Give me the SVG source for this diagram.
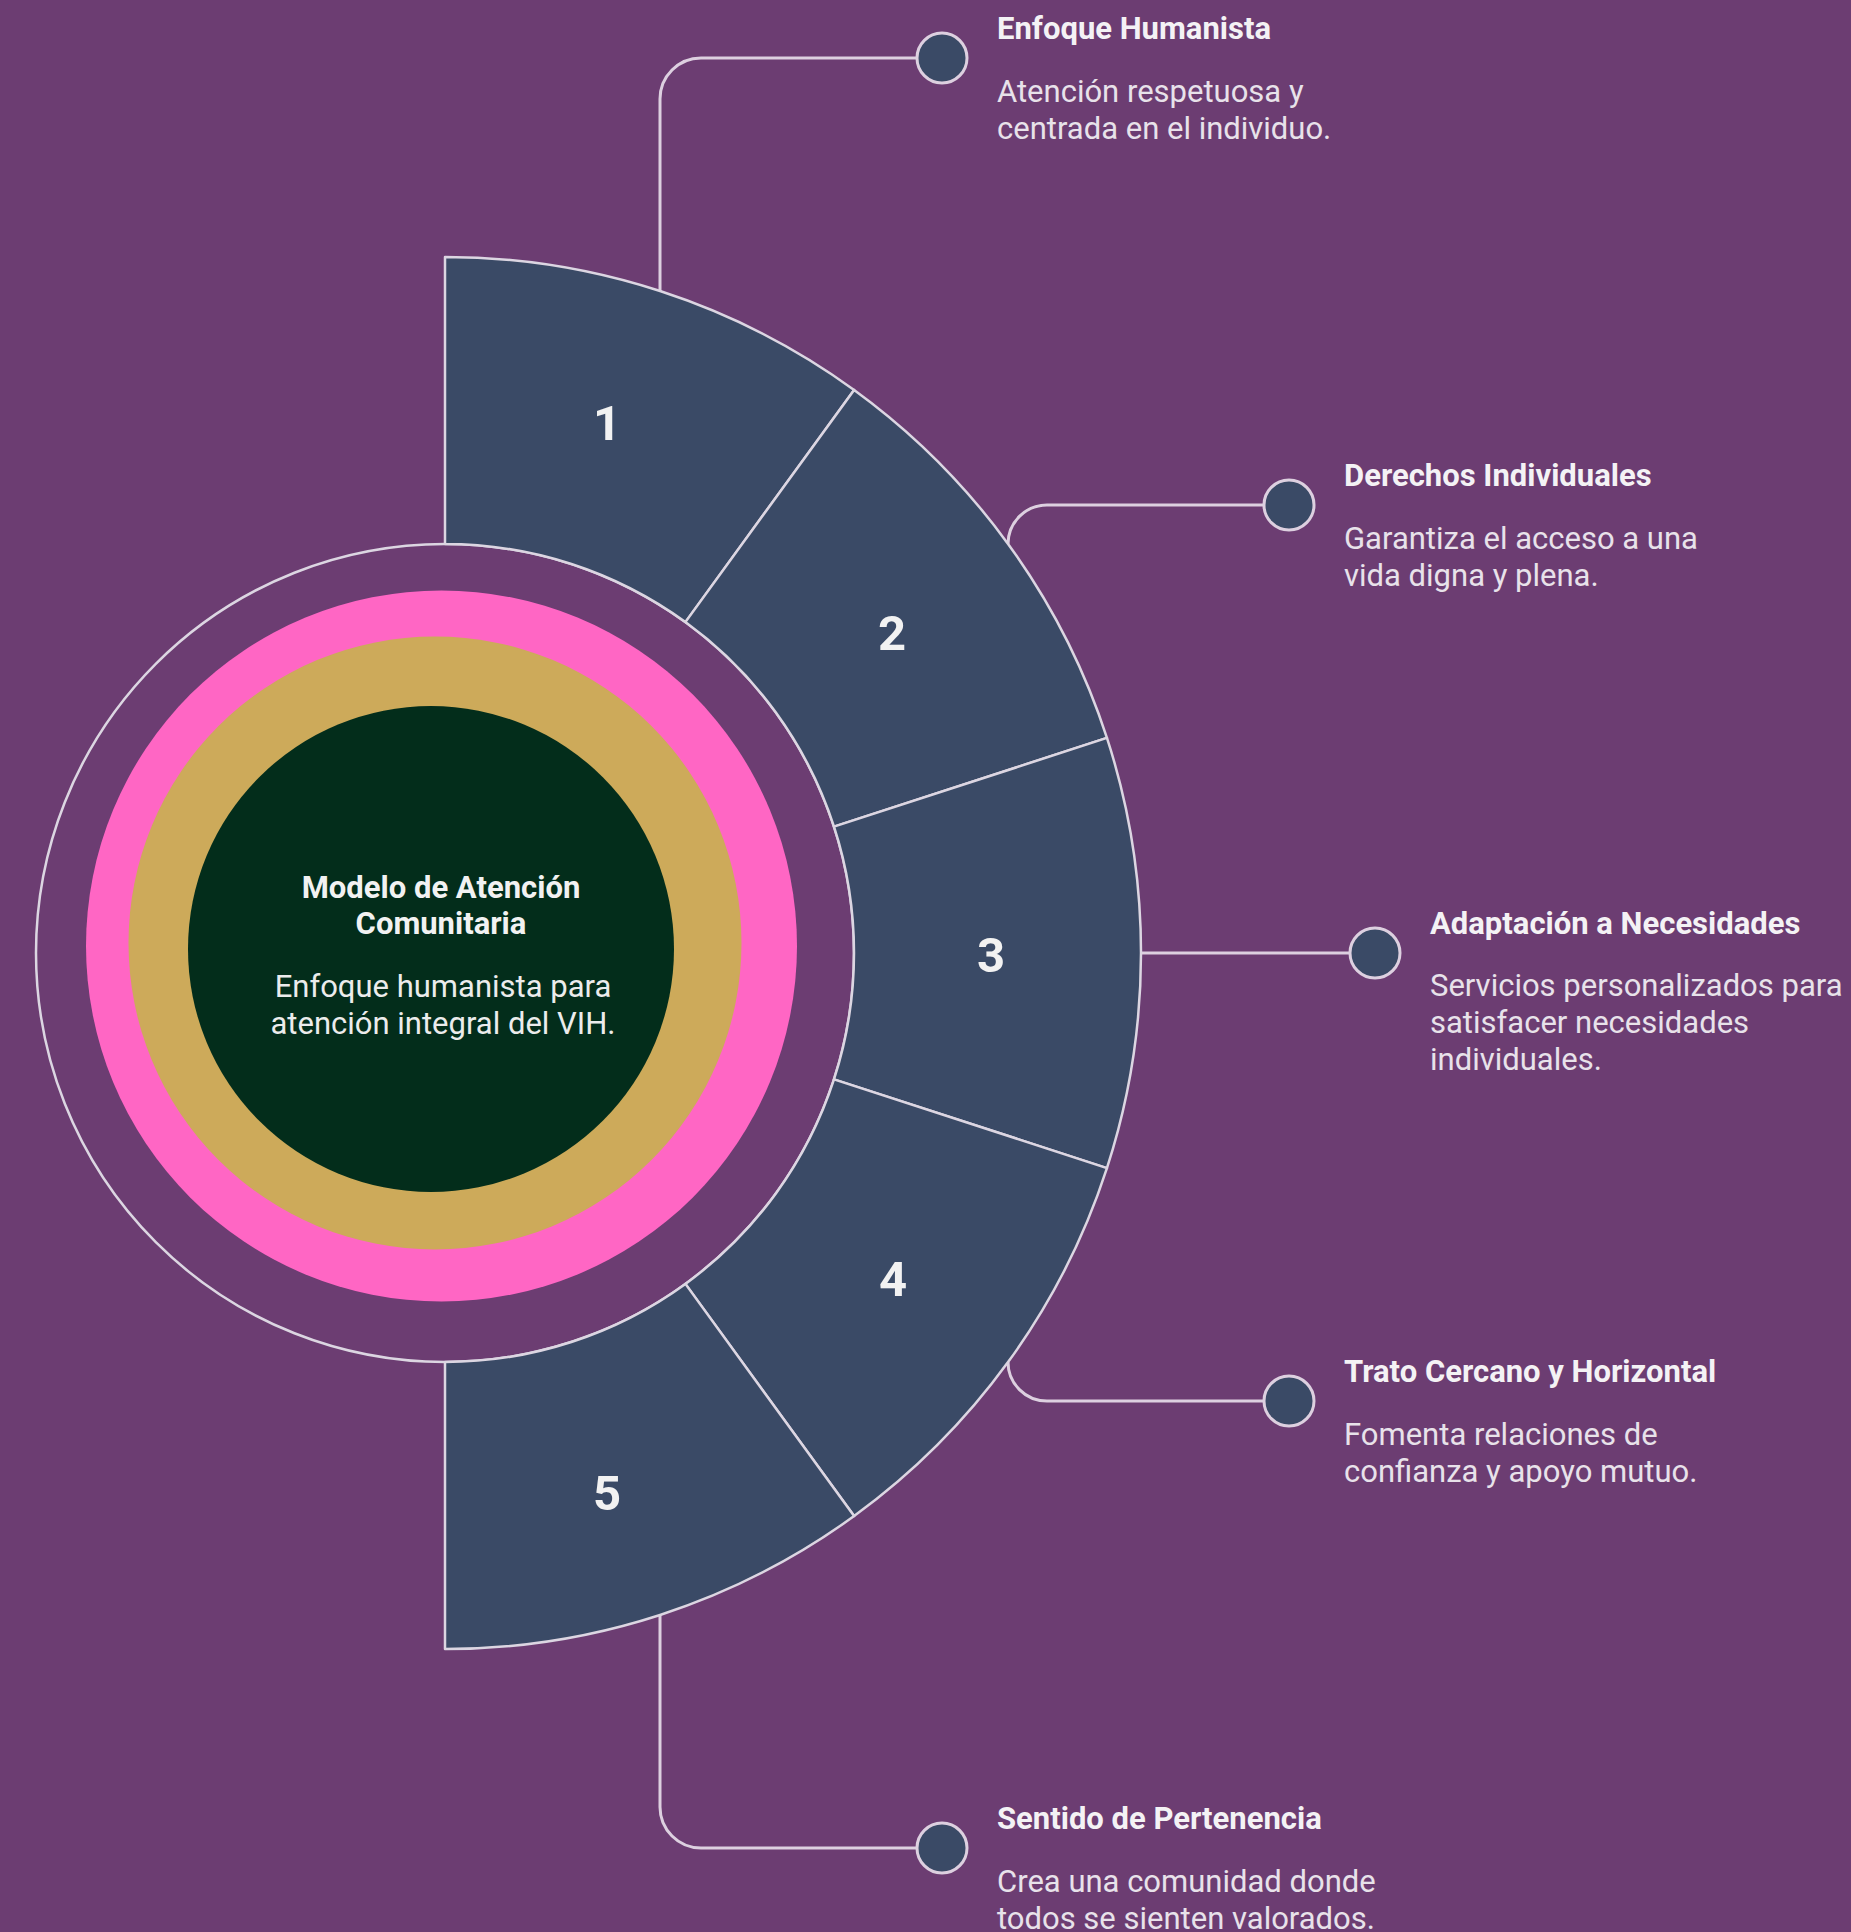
<svg xmlns="http://www.w3.org/2000/svg" width="1851" height="1932" viewBox="0 0 1851 1932">
<style>
.bg{fill:#6c3d72}
.sector{fill:#3a4a66;stroke:#dcd6e2;stroke-width:2.5;stroke-linejoin:round}
.ring{fill:none;stroke:#dcd6e2;stroke-width:2.5}
.conn{fill:none;stroke:#ddd0e0;stroke-width:3}
.dot{fill:#3a4a66;stroke:#ddd0e0;stroke-width:3}
.num{font-family:Roboto,"Liberation Sans",sans-serif;font-weight:700;font-size:49px;fill:#f2f2f2;text-anchor:middle}
.title{font-family:Roboto,"Liberation Sans",sans-serif;font-weight:700;font-size:31px;fill:#f4f2f5}
.body{font-family:Roboto,"Liberation Sans",sans-serif;font-weight:400;font-size:31px;fill:#e8e2ea}
.ctitle{font-family:Roboto,"Liberation Sans",sans-serif;font-weight:700;font-size:31px;fill:#f2f2f2;text-anchor:middle}
.cbody{font-family:Roboto,"Liberation Sans",sans-serif;font-weight:400;font-size:31px;fill:#ececec;text-anchor:middle}
</style>
<rect class="bg" x="0" y="0" width="1851" height="1932"/>

<g id="center">
<circle class="ring" cx="445" cy="953" r="409"/>
<circle cx="441.5" cy="946" r="355.5" fill="#ff66c4"/>
<circle cx="435" cy="943" r="306.5" fill="#cdaa5a"/>
<circle cx="431" cy="949" r="243" fill="#032d1b"/>
<text class="ctitle" x="441" y="898">Modelo de Atención</text>
<text class="ctitle" x="441" y="934">Comunitaria</text>
<text class="cbody" x="443" y="997">Enfoque humanista para</text>
<text class="cbody" x="443" y="1034">atención integral del VIH.</text>
</g>

<g id="connectors">
<path class="conn" d="M660,291 V99 A41,41 0 0 1 701,58 H917"/>
<path class="conn" d="M1008,544 A39,39 0 0 1 1047,505 H1264"/>
<path class="conn" d="M1141,953 H1350"/>
<path class="conn" d="M1008,1362 A39,39 0 0 0 1047,1401 H1264"/>
<path class="conn" d="M660,1615 V1807 A41,41 0 0 0 701,1848 H917"/>
</g>

<g id="sector1">
<path class="sector" d="M445,544 L445,257 A696,696 0 0 1 854.10,389.92 L685.40,622.11 A409,409 0 0 0 445,544 Z"/>
<text class="num" x="607" y="440">1</text>
</g>
<g id="sector2">
<path class="sector" d="M685.40,622.11 L854.10,389.92 A696,696 0 0 1 1106.94,737.92 L833.98,826.61 A409,409 0 0 0 685.40,622.11 Z"/>
<text class="num" x="892" y="650">2</text>
</g>
<g id="sector3">
<path class="sector" d="M833.98,826.61 L1106.94,737.92 A696,696 0 0 1 1106.94,1168.08 L833.98,1079.39 A409,409 0 0 0 833.98,826.61 Z"/>
<text class="num" x="991" y="972">3</text>
</g>
<g id="sector4">
<path class="sector" d="M833.98,1079.39 L1106.94,1168.08 A696,696 0 0 1 854.10,1516.08 L685.40,1283.89 A409,409 0 0 0 833.98,1079.39 Z"/>
<text class="num" x="893" y="1296">4</text>
</g>
<g id="sector5">
<path class="sector" d="M685.40,1283.89 L854.10,1516.08 A696,696 0 0 1 445,1649 L445,1362 A409,409 0 0 0 685.40,1283.89 Z"/>
<text class="num" x="607" y="1510">5</text>
</g>

<g id="item1">
<circle class="dot" cx="942" cy="58" r="25"/>
<text class="title" x="997" y="39">Enfoque Humanista</text>
<text class="body" x="997" y="102">Atención respetuosa y</text>
<text class="body" x="997" y="139">centrada en el individuo.</text>
</g>
<g id="item2">
<circle class="dot" cx="1289" cy="505" r="25"/>
<text class="title" x="1344" y="486">Derechos Individuales</text>
<text class="body" x="1344" y="549">Garantiza el acceso a una</text>
<text class="body" x="1344" y="586">vida digna y plena.</text>
</g>
<g id="item3">
<circle class="dot" cx="1375" cy="953" r="25"/>
<text class="title" x="1430" y="934">Adaptación a Necesidades</text>
<text class="body" x="1430" y="996">Servicios personalizados para</text>
<text class="body" x="1430" y="1033">satisfacer necesidades</text>
<text class="body" x="1430" y="1070">individuales.</text>
</g>
<g id="item4">
<circle class="dot" cx="1289" cy="1401" r="25"/>
<text class="title" x="1344" y="1382">Trato Cercano y Horizontal</text>
<text class="body" x="1344" y="1445">Fomenta relaciones de</text>
<text class="body" x="1344" y="1482">confianza y apoyo mutuo.</text>
</g>
<g id="item5">
<circle class="dot" cx="942" cy="1848" r="25"/>
<text class="title" x="997" y="1829">Sentido de Pertenencia</text>
<text class="body" x="997" y="1892">Crea una comunidad donde</text>
<text class="body" x="997" y="1929">todos se sienten valorados.</text>
</g>
</svg>
